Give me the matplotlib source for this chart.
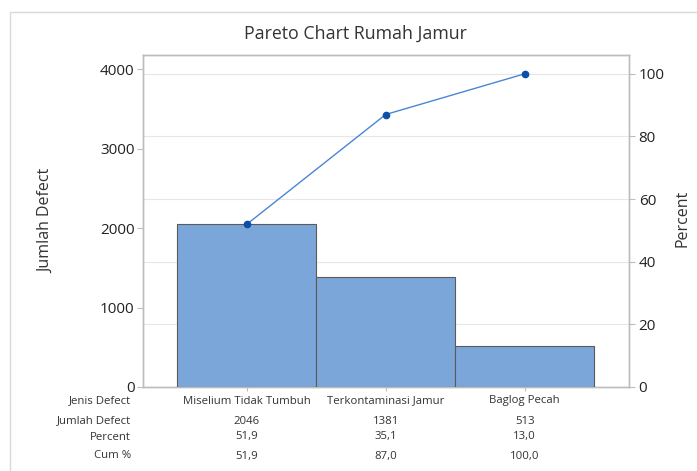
import numpy as np
import matplotlib.pyplot as plt
import matplotlib.transforms as mtransforms
from matplotlib.patches import Rectangle

plt.rcParams['font.family'] = ['Open Sans', 'DejaVu Sans']

categories = ['Miselium Tidak Tumbuh', 'Terkontaminasi Jamur', 'Baglog Pecah']
counts = [2046, 1381, 513]
percent = [51.9, 35.1, 13.0]
cum_percent = [51.9, 87.0, 100.0]

row_labels = ['Jenis Defect', 'Jumlah Defect', 'Percent', 'Cum %']
left_ticks = [0, 1000, 2000, 3000, 4000]
right_ticks = [0, 20, 40, 60, 80, 100]

bar_color = '#7BA6D9'
line_color = '#4A86D2'
marker_color = '#0B4FA8'
spine_color = '#BDBDBD'
text_color = '#333333'


def fmt(v):
    return f"{v:.1f}".replace('.', ',')


def main():
    fig = plt.figure(figsize=(6.97, 4.71), dpi=100)
    ax = fig.add_axes([143 / 697, 1 - 387 / 471, (629 - 143) / 697, (387 - 55) / 471])

    x = np.arange(len(categories))
    total = sum(counts)

    ax.bar(x, counts, width=1.0, color=bar_color, edgecolor='#5a5a5a', linewidth=0.8, zorder=3)
    ax.set_xlim(-0.745, 2.75)
    ax.set_ylim(0, total * 1.06)
    ax.set_yticks(left_ticks)
    ax.set_xticks(x)
    ax.set_xticklabels([])
    ax.tick_params(axis='both', colors=spine_color, labelcolor='#222222', labelsize=11, length=4, width=0.8, pad=2)
    ax.tick_params(axis='x', length=3)
    ax.set_ylabel('Jumlah Defect', fontsize=11.5, color='#333333', labelpad=33)
    for s in ax.spines.values():
        s.set_color(spine_color)
        s.set_linewidth(1.0)

    ax2 = ax.twinx()
    ax2.set_ylim(0, 106)
    ax2.set_yticks(right_ticks)
    ax2.yaxis.grid(True, color='#E6E6E6', linewidth=0.8, zorder=0)
    ax2.set_axisbelow(True)
    ax.set_zorder(ax2.get_zorder() + 1)
    ax.patch.set_visible(False)
    ax2.tick_params(axis='y', colors=spine_color, labelcolor='#222222', labelsize=11, length=4, width=0.8, pad=3)
    for s in ax2.spines.values():
        s.set_color(spine_color)
        s.set_linewidth(1.0)
    fig.text(683 / 697, 1 - 218 / 471, 'Percent', rotation=90, ha='center', va='center',
             fontsize=11.5, color='#333333')

    # cumulative percent line on the percent scale, drawn above the bars
    ax3 = ax.twinx()
    ax3.set_ylim(0, 106)
    ax3.axis('off')
    ax3.set_zorder(ax.get_zorder() + 1)
    ax3.plot(x, cum_percent, color=line_color, linewidth=1.0, zorder=5)
    ax3.plot(x, cum_percent, 'o', color=marker_color, markersize=4.5, zorder=6)

    # table below chart
    trans = mtransforms.blended_transform_factory(ax.transData, fig.transFigure)
    row_y = [1 - 401 / 471, 1 - 421 / 471, 1 - 437 / 471, 1 - 456 / 471]
    for ry, lab in zip(row_y, row_labels):
        fig.text(131 / 697, ry, lab, ha='right', va='center', fontsize=8.2, color=text_color)
    rows = [categories, [str(c) for c in counts], [fmt(p) for p in percent], [fmt(c) for c in cum_percent]]
    for ry, vals in zip(row_y, rows):
        for xi, v in zip(x, vals):
            fig.text(xi, ry, v, transform=trans, ha='center', va='center', fontsize=8.2, color=text_color)

    fig.text(355 / 697, 1 - 34 / 471, 'Pareto Chart Rumah Jamur', ha='center', va='center',
             fontsize=12.8, color='#333333')

    # outer frame of the graph window
    fig.patches.append(Rectangle((10 / 697, -0.05), 1.0, 1 - 12 / 471 + 0.05, transform=fig.transFigure,
                                 fill=False, edgecolor='#D9D9D9', linewidth=1.0))

    plt.savefig('out.png', dpi=100)
    plt.close()


if __name__ == "__main__":
    main()
